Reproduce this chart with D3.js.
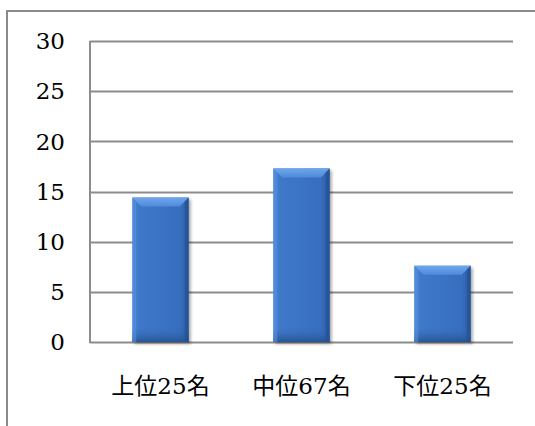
<!DOCTYPE html>
<html><head><meta charset="utf-8">
<script src="https://cdn.jsdelivr.net/npm/d3@7"></script>
<style>html,body{margin:0;padding:0;background:#fff;overflow:hidden}</style>
</head><body>
<script>
const categories = ["上位25名", "中位67名", "下位25名"];
const values = [14.4, 17.3, 7.6];
const yTicks = [0, 5, 10, 15, 20, 25, 30];

const W = 535, H = 426;
const svg = d3.select("body").append("svg").attr("width", W).attr("height", H);
const defs = svg.append("defs");

const gH = defs.append("linearGradient").attr("id", "barH").attr("x1", "0").attr("x2", "1").attr("y1", "0").attr("y2", "0");
gH.append("stop").attr("offset", "0").attr("stop-color", "#4a86d8");
gH.append("stop").attr("offset", "0.12").attr("stop-color", "#3f78c9");
gH.append("stop").attr("offset", "0.85").attr("stop-color", "#386ebf");
gH.append("stop").attr("offset", "1").attr("stop-color", "#2a5a9f");

const gTop = defs.append("linearGradient").attr("id", "barTop").attr("x1", "0").attr("x2", "0").attr("y1", "0").attr("y2", "1");
gTop.append("stop").attr("offset", "0").attr("stop-color", "#6fa6ec");
gTop.append("stop").attr("offset", "1").attr("stop-color", "#4f8ad9");

const gBot = defs.append("linearGradient").attr("id", "barBot").attr("x1", "0").attr("x2", "0").attr("y1", "0").attr("y2", "1");
gBot.append("stop").attr("offset", "0").attr("stop-color", "#3366b0").attr("stop-opacity", 0);
gBot.append("stop").attr("offset", "1").attr("stop-color", "#24528f").attr("stop-opacity", 0.9);

const flt = defs.append("filter").attr("id", "shadow").attr("x", "-20%").attr("y", "-20%").attr("width", "150%").attr("height", "150%");
flt.append("feDropShadow").attr("dx", 2).attr("dy", 2).attr("stdDeviation", 1.6).attr("flood-color", "#000").attr("flood-opacity", 0.35);

// outer frame
svg.append("rect").attr("x", 7).attr("y", 11).attr("width", 540).attr("height", 430)
  .attr("fill", "none").attr("stroke", "#8a8a8a").attr("stroke-width", 2);

const x = d3.scaleBand().domain(categories).range([90, 513]).paddingInner(0.6).paddingOuter(0.3);
const y = d3.scaleLinear().domain([0, 30]).range([342, 41]);

const serif = "'DejaVu Serif', 'Liberation Serif', serif";
const cjk = "'DejaVu Serif', 'Noto Sans CJK JP', serif";

// gridlines
svg.append("g").selectAll("line").data(yTicks).join("line")
  .attr("x1", 90).attr("x2", 513)
  .attr("y1", d => Math.round(y(d)) + 0.5).attr("y2", d => Math.round(y(d)) + 0.5)
  .attr("stroke", "#8c8c8c").attr("stroke-width", 2);

// y axis line
svg.append("line").attr("x1", 90).attr("x2", 90).attr("y1", y(30)).attr("y2", y(0) + 1)
  .attr("stroke", "#8c8c8c").attr("stroke-width", 2);

// y tick labels
svg.append("g").selectAll("text").data(yTicks).join("text")
  .attr("x", 65).attr("y", d => y(d)).attr("dy", "0.36em")
  .attr("text-anchor", "end").attr("font-family", serif).attr("font-size", 23)
  .attr("fill", "#000").text(d => d);

// bars
const bars = svg.append("g").selectAll("g").data(values).join("g");
bars.append("rect")
  .attr("x", (d, i) => x(categories[i])).attr("y", d => y(d))
  .attr("width", x.bandwidth()).attr("height", d => y(0) - y(d))
  .attr("fill", "url(#barH)").attr("filter", "url(#shadow)");
// bottom darkening
bars.append("rect")
  .attr("x", (d, i) => x(categories[i])).attr("y", d => y(0) - Math.min(14, y(0) - y(d)))
  .attr("width", x.bandwidth()).attr("height", d => Math.min(14, y(0) - y(d)))
  .attr("fill", "url(#barBot)");
// top bevel
const bev = 9;
bars.append("polygon")
  .attr("points", (d, i) => {
    const x0 = x(categories[i]), x1 = x0 + x.bandwidth(), t = y(d);
    return [[x0, t], [x1, t], [x1 - bev, t + bev], [x0 + bev, t + bev]].map(p => p.join(",")).join(" ");
  })
  .attr("fill", "url(#barTop)");
// side bevels
bars.append("polygon")
  .attr("points", (d, i) => {
    const x0 = x(categories[i]), t = y(d), b = y(0);
    return [[x0, t], [x0 + 4, t + 4], [x0 + 4, b], [x0, b]].map(p => p.join(",")).join(" ");
  }).attr("fill", "#5590de").attr("opacity", 0.6);
bars.append("polygon")
  .attr("points", (d, i) => {
    const x1 = x(categories[i]) + x.bandwidth(), t = y(d), b = y(0);
    return [[x1, t], [x1 - 4, t + 4], [x1 - 4, b], [x1, b]].map(p => p.join(",")).join(" ");
  }).attr("fill", "#22508f").attr("opacity", 0.6);

// category labels
svg.append("g").selectAll("text").data(categories).join("text")
  .attr("x", d => x(d) + x.bandwidth() / 2).attr("y", 394)
  .attr("text-anchor", "middle").attr("font-family", cjk).attr("font-size", 23)
  .attr("fill", "#000").text(d => d);
</script>
</body></html>
